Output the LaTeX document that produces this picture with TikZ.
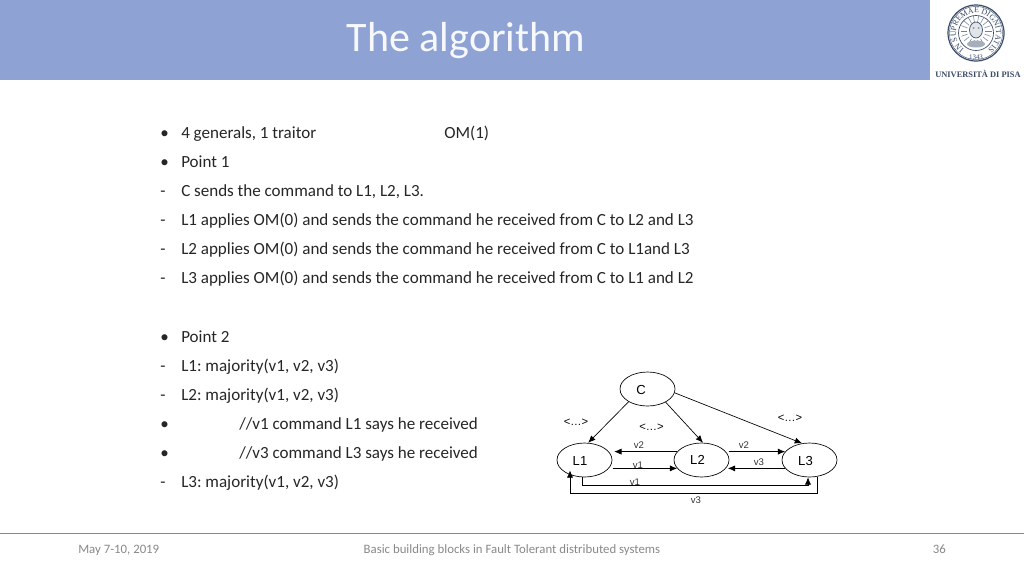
\documentclass[tikz,border=0pt]{standalone}
\usepackage{fontspec}
\setmainfont{Carlito}
\newfontfamily\arialf{Liberation Sans}
\newfontfamily\timesf{Liberation Serif}
\usetikzlibrary{arrows.meta,shapes.geometric,decorations.text}
\definecolor{band}{HTML}{8FA2D4}
\definecolor{foot}{HTML}{898989}
\definecolor{seal}{HTML}{3A4A68}
\definecolor{bodytext}{HTML}{262626}
\frenchspacing
\tikzset{
  x=0.75pt,y=-0.75pt,
  bodyline/.style={anchor=base west,inner sep=0pt,font=\fontsize{12.77pt}{15pt}\selectfont,text=bodytext},
  footer/.style={inner sep=0pt,font=\fontsize{9.6pt}{11pt}\selectfont,text=foot},
  state/.style={draw,ellipse,minimum width=55*0.75pt,minimum height=34*0.75pt,inner sep=0pt,line width=0.5pt},
  statelabel/.style={inner sep=0pt,font=\arialf\fontsize{9.8pt}{11pt}\selectfont},
  msg/.style={inner sep=0pt,font=\arialf\fontsize{7.2pt}{9pt}\selectfont,text=black!80},
  dots/.style={inner sep=0pt,font=\arialf\fontsize{8.4pt}{10pt}\selectfont},
  conn/.style={line width=0.5pt,-{Latex[length=5.5pt,width=4.6pt]}},
}
\begin{document}
\begin{tikzpicture}
\useasboundingbox (0,0) rectangle (1024,576);
\fill[white] (0,0) rectangle (1024,576);
\fill[band] (0,0) rectangle (930,80);
\node[inner sep=0pt,text=white!92!band,font=\fontsize{31.5pt}{36pt}\selectfont] (title) at (466,41) {The algorithm};

% logo
\draw[seal,line width=0.9pt] (976,33) circle[radius=28];
\draw[seal,line width=0.3pt] (976,33) circle[radius=26.6];
\draw[seal,line width=0.5pt] (976,33) circle[radius=17.5];
\path[decorate,decoration={text along path,text align=center,
  text={|\timesf\fontsize{6pt}{7pt}\selectfont\color{seal}|IN SUPREMAE DIGNITATIS}}]
  (976,33) ++(125:20) arc[start angle=125,end angle=415,radius=20];
\node[inner sep=0pt,text=seal,font=\timesf\fontsize{5.2pt}{6pt}\selectfont] (year) at (976,57.5) {1343};
\foreach \a in {0,20,...,340} \draw[seal!70,line width=0.4pt] (976,31) ++(\a:9) -- ++(\a:6.5);
\fill[seal!15] (976,30) ellipse[x radius=6.5,y radius=8];
\draw[seal,line width=0.5pt] (976,30) ellipse[x radius=6.5,y radius=8];
\fill[seal!60] (973.5,28) circle[radius=1];
\fill[seal!60] (978.5,28) circle[radius=1];
\fill[seal!45] (976,44) ellipse[x radius=9,y radius=3.5];
\node[inner sep=0pt,text=seal,font=\timesf\bfseries\fontsize{6.3pt}{7pt}\selectfont] (uni) at (978,73.5) {UNIVERSITÀ DI PISA};

% body text
\node[bodyline] (a1) at (160,138.6) {•};
\node[bodyline] (a1t) at (181,138.6) {4 generals, 1 traitor};
\node[bodyline] (om) at (444,138.6) {OM(1)};
\node[bodyline] (a2) at (160,167.6) {•};
\node[bodyline] (a2t) at (181,167.6) {Point 1};
\node[bodyline] (a3) at (160,196.6) {-};
\node[bodyline] (a3t) at (181,196.6) {C sends the command to L1, L2, L3.};
\node[bodyline] (a4) at (160,225.6) {-};
\node[bodyline] (a4t) at (181,225.6) {L1 applies OM(0) and sends the command he received from C to L2 and L3};
\node[bodyline] (a5) at (160,254.6) {-};
\node[bodyline] (a5t) at (181,254.6) {L2 applies OM(0) and sends the command he received from C to L1and L3};
\node[bodyline] (a6) at (160,283.6) {-};
\node[bodyline] (a6t) at (181,283.6) {L3 applies OM(0) and sends the command he received from C to L1 and L2};
\node[bodyline] (b1) at (160,342.6) {•};
\node[bodyline] (b1t) at (181,342.6) {Point 2};
\node[bodyline] (b2) at (160,371.6) {-};
\node[bodyline] (b2t) at (181,371.6) {L1: majority(v1, v2, v3)};
\node[bodyline] (b3) at (160,400.6) {-};
\node[bodyline] (b3t) at (181,400.6) {L2: majority(v1, v2, v3)};
\node[bodyline] (b4) at (160,429.6) {•};
\node[bodyline] (b4t) at (239,429.6) {//v1 command L1 says he received};
\node[bodyline] (b5) at (160,458.6) {•};
\node[bodyline] (b5t) at (239,458.6) {//v3 command L3 says he received};
\node[bodyline] (b6) at (160,487.6) {-};
\node[bodyline] (b6t) at (181,487.6) {L3: majority(v1, v2, v3)};

% diagram
\node[state] (C) at (647.5,389) {};
\node[state] (L1) at (584.5,460) {};
\node[state] (L2) at (701.5,460) {};
\node[state] (L3) at (809.5,460) {};
\node[statelabel] (lC) at (641,389.5) {C};
\node[statelabel] (lL1) at (580,460.5) {L1};
\node[statelabel] (lL2) at (697.5,460) {L2};
\node[statelabel] (lL3) at (805.5,460.5) {L3};
\draw[conn] (C.214) -- (L1.78);
\draw[conn] (C.324) -- (L2.85);
\draw[conn] (C.352) -- (L3.114);
\draw[conn,shorten >=4pt] (L2.161) -- (L1.19);
\draw[conn,shorten <=3pt] (L1.341) -- (L2.199);
\draw[conn,shorten <=2pt] (L2.19) -- (L3.161);
\draw[conn,shorten >=1.5pt] (L3.199) -- (L2.341);
\coordinate (r1) at (582,485);
\coordinate (r2) at (808,485);
\coordinate (q1) at (817,493);
\coordinate (q2) at (570,493);
\draw[conn] (L1.south -| r1) -- (r1) -- (r2) -- (L3.south -| r2);
\draw[conn] (L3.south -| q1) -- (q1) -- (q2) -- (L1.205 -| q2);
\node[msg] (m1) at (639,445) {v2};
\node[msg] (m2) at (638,465) {v1};
\node[msg] (m3) at (744,445) {v2};
\node[msg] (m4) at (759,462) {v3};
\node[msg] (m5) at (635,482) {v1};
\node[msg] (m6) at (696,500) {v3};
\node[dots] (d1) at (576,422.5) {<…>};
\node[dots] (d2) at (651.5,427) {<…>};
\node[dots] (d3) at (790,418.5) {<…>};

% footer
\draw[foot,line width=0.6pt] (0,533) -- (1024,533);
\node[footer,anchor=base west] (f1) at (78,553) {May 7-10, 2019};
\node[footer,anchor=base] (f2) at (512,553) {Basic building blocks in Fault Tolerant distributed systems};
\node[footer,anchor=base east] (f3) at (946,553) {36};
\end{tikzpicture}
\end{document}
